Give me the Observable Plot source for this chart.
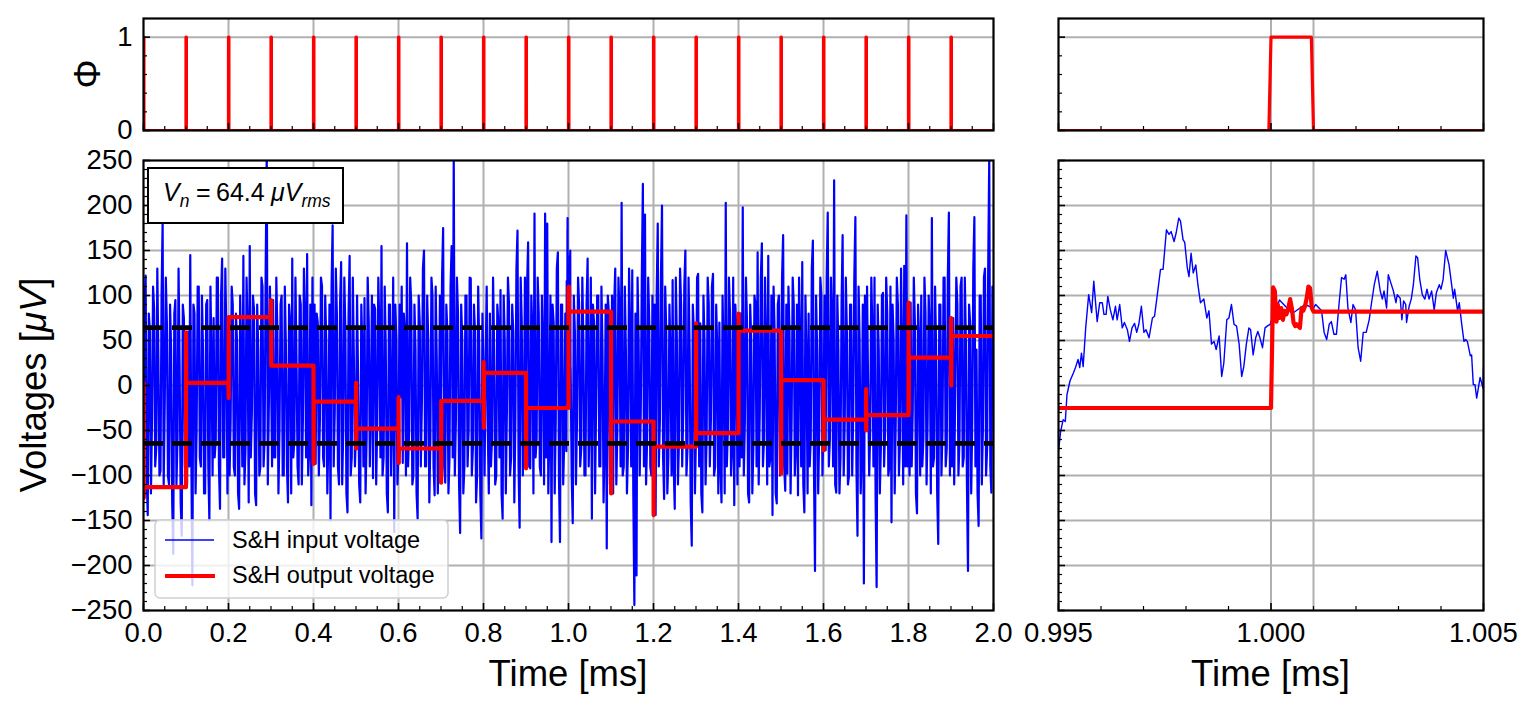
<!DOCTYPE html>
<html><head><meta charset="utf-8">
<script src="https://cdn.jsdelivr.net/npm/d3@7"></script>
<script src="https://cdn.jsdelivr.net/npm/@observablehq/plot@0.6"></script>
<style>
html,body{margin:0;padding:0;background:#fff;}
#fig{position:relative;width:1538px;height:711px;overflow:hidden;font-family:"Liberation Sans",Arial,sans-serif;}
#fig svg{position:absolute;overflow:visible;}
</style></head><body><div id="fig"></div>
<script>
// ---------------- data ----------------
const sampleTimes = [0.0,0.1,0.2,0.3,0.4,0.5,0.6,0.7,0.8,0.9,1.0,1.1,1.2,1.3,1.4,1.5,1.6,1.7,1.8,1.9];
const heldLevels  = [-113,3,76,22,-18,-48,-70,-17,14,-25,82,-40,-68,-53,61,6,-38,-33,31,55];
const spikeFirst  = [3,59,-14,95,-87,3,-13,-108,26,-92,null,-120,-144,69,80,-98,-72,-4,92,75];
const spikeSecond = [-125,3,76,22,-18,-70,-86,-17,-47,-25,null,-40,-68,-53,61,6,-38,-50,-27,0];
const rippleTimeUs = [0.00,0.05,0.09,0.13,0.16,0.20,0.24,0.28,0.32,0.36,0.40,0.45,0.49,0.53,0.57,0.60,0.64,0.68,0.72,0.76,0.80,0.84,0.88,0.92,0.96,1.00];
const rippleUV     = [-25,109,105,71,90,75,86,73,83,79,84,96,86,70,66,68,66,64,86,83,88,97,110,108,86,82];
const vnRms = 64.4;

// S&H input voltage, read every 0.0025 ms (one row per 0.1 ms; null = covered by the fine trace)
const inputCoarse = [
-110,90,122,-100,-144,80,60,-120,-40,110,85,-90,-70,130,30,-100,-95,100,181,-110,-20,120,70,-100,-110,90,40,-130,-187,80,95,-110,-60,130,20,-130,-167,90,75,-90,
10,-110,60,-90,145,-80,-222,90,80,-120,-50,110,110,-80,-90,100,40,-120,-120,90,95,-90,-150,110,30,-100,75,-80,-60,120,120,-90,-137,100,141,-80,-80,130,55,-120,
76,-100,-40,110,90,-90,-100,80,50,-120,-137,100,20,-90,144,-110,-70,120,60,-130,155,-80,-30,100,85,-120,-133,90,40,-100,-90,120,110,-90,-60,130,260,-110,-20,110,
22,-90,95,-80,-80,120,60,-120,-50,90,100,-100,-100,110,45,-90,-130,90,70,-120,141,-80,-60,120,30,-90,-110,100,90,-110,-40,130,75,-80,146,-100,-70,90,-133,120,
-18,90,-87,80,70,-100,-40,120,110,-80,-90,100,50,-120,-60,90,-150,110,178,-90,-30,130,80,-90,-110,90,137,-110,-50,120,60,-120,-141,80,144,-100,-80,120,30,-90,
-48,100,3,-110,-130,90,40,-90,97,-120,-60,120,70,-90,-20,100,-103,90,85,-110,-40,120,60,-80,155,-100,-80,110,45,-120,-141,90,90,-100,-30,120,-163,90,50,-110,
-70,90,-13,110,-86,80,60,-100,158,-90,-50,120,90,-110,-100,90,40,-120,-148,100,70,-90,-20,130,150,-90,-90,100,50,-130,-60,120,100,-90,-122,110,30,-120,-40,100,
-17,120,175,-90,-108,90,60,-120,-80,110,155,-80,255,-100,-40,120,80,-110,-164,90,50,-120,-90,100,100,-90,-50,120,119,-100,-70,90,60,-130,-100,110,40,-120,-170,80,
14,-100,26,110,-47,-120,80,-90,-60,120,40,-110,-100,90,70,-80,106,-120,-148,100,50,-120,-30,120,90,-100,-80,90,60,-130,-40,130,172,-90,-158,120,70,-100,-50,120,
-25,110,159,-90,-92,100,60,-120,191,-80,-60,120,80,-90,-100,100,40,-110,191,-80,180,-120,-50,100,-174,90,70,-120,-40,130,148,-100,-174,90,90,-110,-60,80,null,null,
null,null,20,-100,-153,100,60,-110,-40,120,90,-90,-70,120,50,-100,-100,90,141,-90,-30,120,-148,90,70,-120,-20,100,100,-90,-90,110,40,-130,-60,90,-181,100,80,-110,
-40,100,-120,90,130,-110,-50,120,80,-90,203,-100,-90,110,40,-120,-70,130,60,-90,128,-120,-244,80,-211,120,50,-100,-30,120,224,-90,190,-110,-60,120,70,-90,-100,100,
-68,90,-144,100,180,-90,-40,120,200,-80,-126,110,60,-120,-80,90,30,-100,117,-90,-137,120,50,-110,-60,130,90,-90,-30,110,150,-100,-70,120,40,-130,-178,90,60,-120,
-53,120,124,-90,69,-120,-141,100,50,-110,-60,120,90,-90,-40,110,124,-100,-90,90,40,-120,70,-90,-130,100,30,-120,203,-90,-50,120,80,-100,-70,120,-133,90,60,-110,
61,-90,80,-80,198,-100,-40,120,70,-120,-130,90,50,-120,-70,100,90,-90,148,-110,-30,120,158,-90,-60,120,40,-110,144,-90,-80,100,-144,110,60,-120,-131,90,100,-100,
6,120,167,-90,-117,90,-98,110,60,-120,-40,120,90,-100,-70,90,-122,120,50,-90,137,-110,-141,100,30,-120,80,-90,-60,130,161,-90,-206,100,40,-120,-50,120,100,-100,
-38,100,-72,120,192,-90,-60,120,70,-90,228,-110,-119,100,40,-120,-80,90,167,-100,-40,120,60,-110,-100,90,90,-100,-30,120,187,-90,-167,110,50,-120,-70,90,-220,100,
-33,110,-4,-100,-50,120,60,-90,120,-120,-224,90,40,-120,-70,100,103,-90,-50,120,80,-100,-90,110,-152,90,50,-120,-40,120,90,-100,-60,130,30,-110,133,-90,189,-90,
31,-100,92,-90,-27,120,70,-120,-142,90,50,-100,100,-90,-60,120,80,-110,-40,100,60,-120,186,-90,-80,110,40,-120,-176,90,90,-100,-50,120,120,-90,-70,120,192,-100,
55,-90,75,-110,0,120,90,-100,-60,110,120,-90,-80,120,50,-110,-206,90,70,-120,-40,130,187,-90,40,-120,-156,100,100,-110,-50,120,130,-100,-70,130,252,-90,-119,110,
60];
const coarseStepMs = 0.0025;

// S&H input voltage, fine trace from 0.995 ms (time in µs after 0.995 ms)
const fineTimeUs = [0.00,0.05,0.11,0.16,0.20,0.27,0.35,0.40,0.46,0.50,0.54,0.58,0.64,0.71,0.78,0.83,0.91,0.97,1.03,1.07,1.12,1.16,1.22,1.28,1.34,1.38,1.44,1.50,1.55,1.62,1.67,1.73,1.79,1.84,1.89,1.95,2.01,2.06,2.13,2.21,2.26,2.32,2.40,2.46,2.54,2.60,2.65,2.72,2.77,2.83,2.87,2.93,2.97,3.03,3.07,3.12,3.17,3.23,3.28,3.34,3.42,3.49,3.54,3.60,3.66,3.71,3.78,3.84,3.89,3.96,4.01,4.07,4.13,4.19,4.25,4.31,4.36,4.42,4.48,4.52,4.58,4.64,4.69,4.74,4.80,4.86,4.91,4.98,5.20,5.50,5.80,6.00,6.05,6.13,6.19,6.25,6.31,6.37,6.42,6.48,6.54,6.60,6.66,6.72,6.76,6.81,6.88,6.93,6.99,7.05,7.11,7.17,7.24,7.31,7.36,7.43,7.50,7.57,7.62,7.66,7.72,7.76,7.82,7.88,7.94,7.97,8.04,8.08,8.12,8.17,8.19,8.25,8.30,8.35,8.41,8.45,8.50,8.56,8.62,8.67,8.72,8.78,8.84,8.89,8.96,9.00,9.05,9.11,9.19,9.25,9.29,9.32,9.39,9.43,9.48,9.54,9.58,9.62,9.69,9.72,9.76,9.80,9.84,9.92,9.99];
const fineUV = [-73,-51,-38,-40,-10,5,14,20,29,20,36,21,64,101,81,116,71,92,92,79,79,99,84,73,88,73,90,64,70,62,49,64,69,59,68,88,59,62,53,75,77,99,129,129,173,168,171,160,170,186,183,162,159,131,121,147,125,134,112,92,96,75,83,46,49,40,55,10,25,73,75,90,68,66,46,10,21,46,64,62,34,53,60,53,42,64,66,68,95,80,90,86,90,86,83,59,51,68,71,57,57,90,120,118,123,86,70,90,84,42,27,59,59,73,90,112,127,105,96,105,86,123,114,105,92,101,97,73,94,90,70,88,96,112,144,142,118,101,96,107,96,105,84,103,112,107,118,150,134,112,97,107,83,92,71,49,51,49,33,34,1,1,-14,9,-3];
const fineStartMs = 0.995;

// axes
const xTicksLeft = [0.0,0.2,0.4,0.6,0.8,1.0,1.2,1.4,1.6,1.8,2.0];
const xTickLabelsLeft = ["0.0","0.2","0.4","0.6","0.8","1.0","1.2","1.4","1.6","1.8","2.0"];
const xTicksRight = [0.995,1.000,1.005];
const xTickLabelsRight = ["0.995","1.000","1.005"];
const zoomGridTimes = [1.000,1.001];
const yTicks = [-250,-200,-150,-100,-50,0,50,100,150,200,250];
const yTickLabels = ["\u2212250","\u2212200","\u2212150","\u2212100","\u221250","0","50","100","150","200","250"];
const yGrid = [-200,-150,-100,-50,0,50,100,150,200];
const phiTicks = [0,1];
const phiTickLabels = ["0","1"];
const seriesNames = ["S&H input voltage","S&H output voltage"];

// ---------------- derived tables ----------------
const inputSeries = [];
inputCoarse.forEach((v,i)=>{ if (v !== null) inputSeries.push({t: i*coarseStepMs, v}); });
fineTimeUs.forEach((u,i)=> inputSeries.push({t: fineStartMs + u/1000, v: fineUV[i]}));
inputSeries.sort((a,b)=>a.t-b.t);

const outputSeries = [];
sampleTimes.forEach((s,k)=>{
  if (k>0) outputSeries.push({t:s, v:heldLevels[k-1]});
  if (spikeFirst[k] === null) {
    rippleTimeUs.forEach((u,j)=> outputSeries.push({t:s+u/1000, v:rippleUV[j]}));
  } else {
    outputSeries.push({t:s+0.0003, v:spikeFirst[k]});
    outputSeries.push({t:s+0.0006, v:spikeSecond[k]});
  }
  outputSeries.push({t:s+0.001, v:heldLevels[k]});
});
outputSeries.push({t:2.0, v:heldLevels[heldLevels.length-1]});

const phiSeries = [];
sampleTimes.forEach(s=>{
  phiSeries.push({t:s-0.00005,v:0},{t:s,v:1},{t:s+0.00095,v:1},{t:s+0.001,v:0});
});
phiSeries.push({t:2.0,v:0});

// ---------------- styling ----------------
const FONT = "'Liberation Sans', Arial, sans-serif";
const GRID = "#b0b0b0";
const TICKFS = 27.5, LABELFS = 36.5;
const fig = document.getElementById("fig");

function rng(a,b,step,skipEvery){ // minor tick helper
  const out=[]; const n=Math.round((b-a)/step);
  for(let i=0;i<=n;i++){ if (skipEvery && i%skipEvery===0) continue; out.push(+(a+i*step).toFixed(6)); }
  return out;
}

function panel({left, top, width, height, margin, xDomain, yDomain, xGrid, yGridV, xMajor, xMinor, yMajor, yMinor, xLabels, yLabels, lines}) {
  const W = width - margin[1] - margin[3];
  const H = height - margin[0] - margin[2];
  const marks = [
    Plot.ruleX(xGrid, {x: d=>d, stroke: GRID, strokeWidth: 2}),
    Plot.ruleY(yGridV, {y: d=>d, stroke: GRID, strokeWidth: 2}),
    ...lines,
    Plot.tickX(xMajor, {x: d=>d, stroke:"black", strokeWidth:1.6, insetTop: H-7}),
    Plot.tickX(xMinor, {x: d=>d, stroke:"black", strokeWidth:1.2, insetTop: H-4}),
    Plot.tickY(yMajor, {y: d=>d, stroke:"black", strokeWidth:1.6, insetRight: W-7}),
    Plot.tickY(yMinor, {y: d=>d, stroke:"black", strokeWidth:1.2, insetRight: W-4}),
  ];
  if (xLabels) marks.push(Plot.text(xLabels.ticks, {x: d=>d, text: (d,i)=>xLabels.labels[i], frameAnchor:"bottom", dy: 12, lineAnchor:"top", fontSize: TICKFS, fill:"black"}));
  if (yLabels) marks.push(Plot.text(yLabels.ticks, {y: d=>d, text: (d,i)=>yLabels.labels[i], frameAnchor:"left", dx: -11, textAnchor:"end", lineAnchor:"middle", fontSize: TICKFS, fill:"black"}));
  marks.push(Plot.frame({stroke:"black", strokeWidth:2.2}));
  const svg = Plot.plot({
    width, height,
    marginTop: margin[0], marginRight: margin[1], marginBottom: margin[2], marginLeft: margin[3],
    x: {domain: xDomain, axis: null},
    y: {domain: yDomain, axis: null},
    style: {background:"transparent", overflow:"visible", fontFamily: FONT, fontSize: TICKFS+"px", color:"black"},
    marks
  });
  svg.style.left = left+"px"; svg.style.top = top+"px";
  svg.style.maxWidth = "none";
  fig.appendChild(svg);
  return d3.select(svg);
}

const xMinorLeft = rng(0,2,0.05,4);
const xMajorRight = xTicksRight;
const xMinorRight = rng(0.995,1.005,0.001,5);
const yMinorV = rng(-250,250,10,5);
const phiMinor = rng(0,1.2,0.2,5);

const inputLine = (o={}) => Plot.line(inputSeries, {x:"t", y:"v", stroke:"#0000ff", strokeWidth:2.2, clip:true, ...o});
const outputLine = (o={}) => Plot.line(outputSeries, {x:"t", y:"v", stroke:"#ff0000", strokeWidth:4.2, clip:true, ...o});
const phiLine = () => Plot.line(phiSeries, {x:"t", y:"v", stroke:"#ff0000", strokeWidth:3.2, clip:true});

// top-left Φ
const svgTL = panel({left:0, top:0, width:1020, height:140, margin:[18,27,10,143],
  xDomain:[0,2], yDomain:[0,1.2],
  xGrid: xTicksLeft.slice(1,-1), yGridV: [1],
  xMajor: xTicksLeft, xMinor: xMinorLeft, yMajor: phiTicks, yMinor: phiMinor,
  yLabels: {ticks: phiTicks, labels: phiTickLabels},
  lines: [phiLine()]});
svgTL.append("text").attr("transform","translate(100,74) rotate(-90)").attr("text-anchor","middle")
  .attr("font-size",LABELFS).attr("fill","black").text("\u03A6");

// top-right Φ zoom
panel({left:1020, top:0, width:518, height:140, margin:[18,55,10,38],
  xDomain:[0.995,1.005], yDomain:[0,1.2],
  xGrid: zoomGridTimes, yGridV: [1],
  xMajor: xMajorRight, xMinor: xMinorRight, yMajor: phiTicks, yMinor: phiMinor,
  lines: [phiLine()]});

// bottom-left voltages
const svgBL = panel({left:0, top:140, width:1020, height:571, margin:[20,27,101,143],
  xDomain:[0,2], yDomain:[-250,250],
  xGrid: xTicksLeft.slice(1,-1), yGridV: yGrid,
  xMajor: xTicksLeft, xMinor: xMinorLeft, yMajor: yTicks, yMinor: yMinorV,
  xLabels: {ticks: xTicksLeft, labels: xTickLabelsLeft},
  yLabels: {ticks: yTicks, labels: yTickLabels},
  lines: [inputLine(), outputLine(),
    Plot.ruleY([vnRms, -vnRms], {y:d=>d, stroke:"black", strokeWidth:4.8, strokeDasharray:"20,9"})]});

// bottom-right zoom
const svgBR = panel({left:1020, top:140, width:518, height:571, margin:[20,55,101,38],
  xDomain:[0.995,1.005], yDomain:[-250,250],
  xGrid: zoomGridTimes, yGridV: yGrid,
  xMajor: xMajorRight, xMinor: xMinorRight, yMajor: yTicks, yMinor: yMinorV,
  xLabels: {ticks: xTicksRight, labels: xTickLabelsRight},
  lines: [inputLine({strokeWidth:1.4}), outputLine()]});

// axis titles
const yl = svgBL.append("text").attr("transform","translate(46,245) rotate(-90)").attr("text-anchor","middle")
  .attr("font-size",LABELFS).attr("fill","black");
yl.append("tspan").text("Voltages [");
yl.append("tspan").attr("font-style","italic").text("\u03BCV");
yl.append("tspan").text("]");
svgBL.append("text").attr("x",568).attr("y",546).attr("text-anchor","middle").attr("font-size",LABELFS).attr("fill","black").text("Time [ms]");
svgBR.append("text").attr("x",250.5).attr("y",546).attr("text-anchor","middle").attr("font-size",LABELFS).attr("fill","black").text("Time [ms]");

// legend
const lg = svgBL.append("g");
lg.append("rect").attr("x",155).attr("y",380).attr("width",293).attr("height",78).attr("rx",5)
  .attr("fill","white").attr("fill-opacity",0.8).attr("stroke","#d0d0d0").attr("stroke-width",1.5);
lg.append("line").attr("x1",165).attr("x2",214).attr("y1",400).attr("y2",400).attr("stroke","#0000ff").attr("stroke-width",1.4);
lg.append("line").attr("x1",165).attr("x2",215).attr("y1",436).attr("y2",436).attr("stroke","#ff0000").attr("stroke-width",4.2);
lg.append("text").attr("x",232).attr("y",408).attr("text-anchor","start").attr("font-size",23.5).attr("fill","black").text(seriesNames[0]);
lg.append("text").attr("x",232).attr("y",443).attr("text-anchor","start").attr("font-size",23.5).attr("fill","black").text(seriesNames[1]);

// annotation box
const an = svgBL.append("g");
an.append("rect").attr("x",148).attr("y",28).attr("width",195).attr("height",55).attr("fill","white").attr("stroke","black").attr("stroke-width",2);
const at = an.append("text").attr("y",61).attr("text-anchor","start").attr("font-size",25).attr("fill","black");
at.append("tspan").attr("x",163).attr("font-style","italic").text("V");
at.append("tspan").attr("font-size",17.5).attr("dy",6).attr("font-style","italic").text("n");
at.append("tspan").attr("dy",-6).attr("x",196).text("=");
at.append("tspan").attr("x",216).text(vnRms.toFixed(1));
at.append("tspan").attr("x",271).attr("font-style","italic").text("\u03BCV");
at.append("tspan").attr("font-size",17.5).attr("dy",6).attr("font-style","italic").text("rms");
</script></body></html>
